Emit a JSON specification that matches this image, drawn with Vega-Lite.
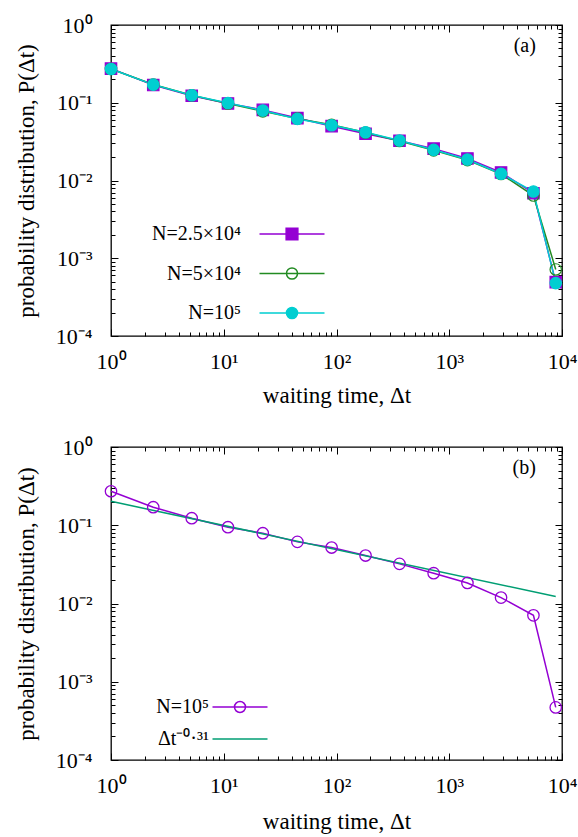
{
  "$schema": "https://vega.github.io/schema/vega-lite/v6.json",
  "background": "white",
  "padding": {"left": 14, "top": 13, "right": 5, "bottom": 5},
  "spacing": 27,
  "config": {
    "font": "Liberation Serif",
    "view": {"stroke": "black", "strokeWidth": 1.3},
    "axis": {
      "domain": false, "grid": false, "tickColor": "black", "tickWidth": 1,
      "labelFont": "Liberation Serif", "labelFontSize": 22, "labelColor": "black",
      "titleFont": "Liberation Serif", "titleFontSize": 23, "titleFontWeight": "normal", "titleColor": "black",
      "labelFlush": false, "labelOverlap": false, "labelBound": false
    },
    "legend": {"padding": 0},
    "title": {"font": "Liberation Serif", "fontSize": 20, "fontWeight": "normal", "color": "black"}
  },
  "datasets": {
    "a": [
      {"dt": 1, "p": 0.275, "series": "N=2.5×10⁴"},
      {"dt": 2.37, "p": 0.169, "series": "N=2.5×10⁴"},
      {"dt": 5.2, "p": 0.123, "series": "N=2.5×10⁴"},
      {"dt": 10.9, "p": 0.098, "series": "N=2.5×10⁴"},
      {"dt": 22.2, "p": 0.081, "series": "N=2.5×10⁴"},
      {"dt": 45, "p": 0.0635, "series": "N=2.5×10⁴"},
      {"dt": 90.5, "p": 0.0500, "series": "N=2.5×10⁴"},
      {"dt": 181, "p": 0.0400, "series": "N=2.5×10⁴"},
      {"dt": 362, "p": 0.0325, "series": "N=2.5×10⁴"},
      {"dt": 727, "p": 0.0257, "series": "N=2.5×10⁴"},
      {"dt": 1450, "p": 0.0192, "series": "N=2.5×10⁴"},
      {"dt": 2880, "p": 0.0127, "series": "N=2.5×10⁴"},
      {"dt": 5580, "p": 0.00687, "series": "N=2.5×10⁴"},
      {"dt": 8800, "p": 0.000493, "series": "N=2.5×10⁴"},
      {"dt": 1, "p": 0.272, "series": "N=5×10⁴"},
      {"dt": 2.37, "p": 0.172, "series": "N=5×10⁴"},
      {"dt": 5.2, "p": 0.125, "series": "N=5×10⁴"},
      {"dt": 10.9, "p": 0.098, "series": "N=5×10⁴"},
      {"dt": 22.2, "p": 0.0775, "series": "N=5×10⁴"},
      {"dt": 45, "p": 0.0625, "series": "N=5×10⁴"},
      {"dt": 90.5, "p": 0.0520, "series": "N=5×10⁴"},
      {"dt": 181, "p": 0.0415, "series": "N=5×10⁴"},
      {"dt": 362, "p": 0.0322, "series": "N=5×10⁴"},
      {"dt": 727, "p": 0.0244, "series": "N=5×10⁴"},
      {"dt": 1450, "p": 0.0183, "series": "N=5×10⁴"},
      {"dt": 2880, "p": 0.0121, "series": "N=5×10⁴"},
      {"dt": 5580, "p": 0.0064, "series": "N=5×10⁴"},
      {"dt": 8800, "p": 0.000718, "series": "N=5×10⁴"},
      {"dt": 1, "p": 0.272, "series": "N=10⁵"},
      {"dt": 2.37, "p": 0.171, "series": "N=10⁵"},
      {"dt": 5.2, "p": 0.125, "series": "N=10⁵"},
      {"dt": 10.9, "p": 0.0993, "series": "N=10⁵"},
      {"dt": 22.2, "p": 0.0794, "series": "N=10⁵"},
      {"dt": 45, "p": 0.0620, "series": "N=10⁵"},
      {"dt": 90.5, "p": 0.0514, "series": "N=10⁵"},
      {"dt": 181, "p": 0.0418, "series": "N=10⁵"},
      {"dt": 362, "p": 0.0327, "series": "N=10⁵"},
      {"dt": 727, "p": 0.0248, "series": "N=10⁵"},
      {"dt": 1450, "p": 0.0186, "series": "N=10⁵"},
      {"dt": 2880, "p": 0.0122, "series": "N=10⁵"},
      {"dt": 5580, "p": 0.00722, "series": "N=10⁵"},
      {"dt": 8800, "p": 0.000479, "series": "N=10⁵"}
    ],
    "b": [
      {"dt": 1, "p": 0.272, "series": "N=10⁵"},
      {"dt": 2.37, "p": 0.170, "series": "N=10⁵"},
      {"dt": 5.2, "p": 0.123, "series": "N=10⁵"},
      {"dt": 10.9, "p": 0.0944, "series": "N=10⁵"},
      {"dt": 22.2, "p": 0.0791, "series": "N=10⁵"},
      {"dt": 45, "p": 0.0613, "series": "N=10⁵"},
      {"dt": 90.5, "p": 0.0519, "series": "N=10⁵"},
      {"dt": 181, "p": 0.0410, "series": "N=10⁵"},
      {"dt": 362, "p": 0.0321, "series": "N=10⁵"},
      {"dt": 727, "p": 0.0244, "series": "N=10⁵"},
      {"dt": 1450, "p": 0.0183, "series": "N=10⁵"},
      {"dt": 2880, "p": 0.0119, "series": "N=10⁵"},
      {"dt": 5580, "p": 0.00706, "series": "N=10⁵"},
      {"dt": 8800, "p": 0.00047, "series": "N=10⁵"},
      {"dt": 1, "p": 0.202, "series": "Δt⁻⁰·³¹"},
      {"dt": 8800, "p": 0.0123, "series": "Δt⁻⁰·³¹"}
    ]
  },
  "vconcat": [
    {
      "width": 451, "height": 311,
      "title": {"text": "(a)", "anchor": "end", "offset": -52, "dx": -41, "baseline": "middle"},
      "data": {"name": "a"},
      "layer": [
        {
          "mark": {"type": "line", "strokeWidth": 1.5},
          "encoding": {
            "x": {"field": "dt", "type": "quantitative",
              "scale": {"type": "log", "domain": [1, 10000], "nice": false},
              "axis": {"orient": "bottom", "title": "waiting time, Δt", "titlePadding": 9,
                "values": [1,2,3,4,5,6,7,8,9,10,20,30,40,50,60,70,80,90,100,200,300,400,500,600,700,800,900,1000,2000,3000,4000,5000,6000,7000,8000,9000,10000],
                "labelExpr": "abs(log(datum.value)/LN10 - round(log(datum.value)/LN10)) > 0.001 ? '' : '10' + ['⁻⁴','⁻³','⁻²','⁻¹','⁰','¹','²','³','⁴'][round(log(datum.value)/LN10)+4]",
                "tickSize": {"condition": {"test": "abs(log(datum.value)/LN10 - round(log(datum.value)/LN10)) < 0.001", "value": -7}, "value": -4},
                "labelPadding": 22}},
            "y": {"field": "p", "type": "quantitative",
              "scale": {"type": "log", "domain": [0.0001, 1], "nice": false},
              "axis": {"orient": "left", "title": "probability distribution, P(Δt)", "titlePadding": 17,
                "values": [0.0001,0.0002,0.0003,0.0004,0.0005,0.0006,0.0007,0.0008,0.0009,0.001,0.002,0.003,0.004,0.005,0.006,0.007,0.008,0.009,0.01,0.02,0.03,0.04,0.05,0.06,0.07,0.08,0.09,0.1,0.2,0.3,0.4,0.5,0.6,0.7,0.8,0.9,1],
                "labelExpr": "abs(log(datum.value)/LN10 - round(log(datum.value)/LN10)) > 0.001 ? '' : '10' + ['⁻⁴','⁻³','⁻²','⁻¹','⁰','¹','²','³','⁴'][round(log(datum.value)/LN10)+4]",
                "tickSize": {"condition": {"test": "abs(log(datum.value)/LN10 - round(log(datum.value)/LN10)) < 0.001", "value": -7}, "value": -4},
                "labelPadding": 26}},
            "color": {"field": "series", "type": "nominal",
              "scale": {"domain": ["N=2.5×10⁴", "N=5×10⁴", "N=10⁵"], "range": ["#9400D3", "#228B22", "#00CED1"]},
              "legend": {"orient": "none", "legendX": 171, "legendY": 199, "title": null,
                "labelFont": "Liberation Serif", "labelFontSize": 20, "labelColor": "black",
                "labelAlign": "right", "labelOffset": -61, "symbolSize": 169, "symbolStrokeWidth": 1.5, "rowPadding": 19.5,
                "encode": {"symbols": {"update": {
                  "shape": {"signal": "datum.value === 'N=2.5×10⁴' ? 'M-5,0H5M-0.9,-0.9H0.9V0.9H-0.9Z' : 'M-5,0H5M0.85,0A0.85,0.85,0,1,1,-0.85,0A0.85,0.85,0,1,1,0.85,0Z'"},
                  "fill": {"signal": "datum.value === 'N=5×10⁴' ? 'transparent' : (datum.value === 'N=10⁵' ? '#00CED1' : '#9400D3')"},
                  "opacity": {"value": 1}
                }}}}}
          }
        },
        {
          "mark": {"type": "point", "size": 130, "strokeWidth": 1.2, "opacity": 1},
          "encoding": {
            "x": {"field": "dt", "type": "quantitative",
              "scale": {"type": "log", "domain": [1, 10000], "nice": false},
              "axis": {"orient": "top", "title": null, "labels": false,
                "values": [1,2,3,4,5,6,7,8,9,10,20,30,40,50,60,70,80,90,100,200,300,400,500,600,700,800,900,1000,2000,3000,4000,5000,6000,7000,8000,9000,10000],
                "tickSize": {"condition": {"test": "abs(log(datum.value)/LN10 - round(log(datum.value)/LN10)) < 0.001", "value": -7}, "value": -4}}},
            "y": {"field": "p", "type": "quantitative",
              "scale": {"type": "log", "domain": [0.0001, 1], "nice": false},
              "axis": {"orient": "right", "title": null, "labels": false,
                "values": [0.0001,0.0002,0.0003,0.0004,0.0005,0.0006,0.0007,0.0008,0.0009,0.001,0.002,0.003,0.004,0.005,0.006,0.007,0.008,0.009,0.01,0.02,0.03,0.04,0.05,0.06,0.07,0.08,0.09,0.1,0.2,0.3,0.4,0.5,0.6,0.7,0.8,0.9,1],
                "tickSize": {"condition": {"test": "abs(log(datum.value)/LN10 - round(log(datum.value)/LN10)) < 0.001", "value": -7}, "value": -4}}},
            "shape": {"field": "series", "type": "nominal",
              "scale": {"domain": ["N=2.5×10⁴", "N=5×10⁴", "N=10⁵"], "range": ["square", "circle", "circle"]}, "legend": null},
            "fill": {"field": "series", "type": "nominal",
              "scale": {"domain": ["N=2.5×10⁴", "N=5×10⁴", "N=10⁵"], "range": ["#9400D3", "transparent", "#00CED1"]}, "legend": null},
            "stroke": {"field": "series", "type": "nominal",
              "scale": {"domain": ["N=2.5×10⁴", "N=5×10⁴", "N=10⁵"], "range": ["#9400D3", "#228B22", "#00CED1"]}, "legend": null}
          }
        }
      ],
      "resolve": {"axis": {"x": "independent", "y": "independent"}}
    },
    {
      "width": 451, "height": 313,
      "title": {"text": "(b)", "anchor": "end", "offset": -52, "dx": -41, "baseline": "middle"},
      "data": {"name": "b"},
      "layer": [
        {
          "mark": {"type": "line", "strokeWidth": 1.5},
          "encoding": {
            "x": {"field": "dt", "type": "quantitative",
              "scale": {"type": "log", "domain": [1, 10000], "nice": false},
              "axis": {"orient": "bottom", "title": "waiting time, Δt", "titlePadding": 11,
                "values": [1,2,3,4,5,6,7,8,9,10,20,30,40,50,60,70,80,90,100,200,300,400,500,600,700,800,900,1000,2000,3000,4000,5000,6000,7000,8000,9000,10000],
                "labelExpr": "abs(log(datum.value)/LN10 - round(log(datum.value)/LN10)) > 0.001 ? '' : '10' + ['⁻⁴','⁻³','⁻²','⁻¹','⁰','¹','²','³','⁴'][round(log(datum.value)/LN10)+4]",
                "tickSize": {"condition": {"test": "abs(log(datum.value)/LN10 - round(log(datum.value)/LN10)) < 0.001", "value": -7}, "value": -4},
                "labelPadding": 22}},
            "y": {"field": "p", "type": "quantitative",
              "scale": {"type": "log", "domain": [0.0001, 1], "nice": false},
              "axis": {"orient": "left", "title": "probability distribution, P(Δt)", "titlePadding": 17,
                "values": [0.0001,0.0002,0.0003,0.0004,0.0005,0.0006,0.0007,0.0008,0.0009,0.001,0.002,0.003,0.004,0.005,0.006,0.007,0.008,0.009,0.01,0.02,0.03,0.04,0.05,0.06,0.07,0.08,0.09,0.1,0.2,0.3,0.4,0.5,0.6,0.7,0.8,0.9,1],
                "labelExpr": "abs(log(datum.value)/LN10 - round(log(datum.value)/LN10)) > 0.001 ? '' : '10' + ['⁻⁴','⁻³','⁻²','⁻¹','⁰','¹','²','³','⁴'][round(log(datum.value)/LN10)+4]",
                "tickSize": {"condition": {"test": "abs(log(datum.value)/LN10 - round(log(datum.value)/LN10)) < 0.001", "value": -7}, "value": -4},
                "labelPadding": 26}},
            "color": {"field": "series", "type": "nominal",
              "scale": {"domain": ["N=10⁵", "Δt⁻⁰·³¹"], "range": ["#9400D3", "#009E73"]},
              "legend": {"orient": "none", "legendX": 119, "legendY": 250, "title": null,
                "labelFont": "Liberation Serif", "labelFontSize": 20, "labelColor": "black",
                "labelAlign": "right", "labelOffset": -41, "symbolSize": 121, "symbolStrokeWidth": 1.5, "rowPadding": 12,
                "encode": {"symbols": {"update": {
                  "shape": {"signal": "datum.value === 'N=10⁵' ? 'M-5,0H5M1,0A1,1,0,1,1,-1,0A1,1,0,1,1,1,0Z' : 'M-5,0H5'"},
                  "fill": {"value": "transparent"},
                  "opacity": {"value": 1}
                }}}}}
          }
        },
        {
          "transform": [{"filter": "datum.series === 'N=10⁵'"}],
          "mark": {"type": "point", "shape": "circle", "filled": false, "color": "#9400D3", "size": 130, "strokeWidth": 1.3, "opacity": 1},
          "encoding": {
            "x": {"field": "dt", "type": "quantitative",
              "scale": {"type": "log", "domain": [1, 10000], "nice": false},
              "axis": {"orient": "top", "title": null, "labels": false,
                "values": [1,2,3,4,5,6,7,8,9,10,20,30,40,50,60,70,80,90,100,200,300,400,500,600,700,800,900,1000,2000,3000,4000,5000,6000,7000,8000,9000,10000],
                "tickSize": {"condition": {"test": "abs(log(datum.value)/LN10 - round(log(datum.value)/LN10)) < 0.001", "value": -7}, "value": -4}}},
            "y": {"field": "p", "type": "quantitative",
              "scale": {"type": "log", "domain": [0.0001, 1], "nice": false},
              "axis": {"orient": "right", "title": null, "labels": false,
                "values": [0.0001,0.0002,0.0003,0.0004,0.0005,0.0006,0.0007,0.0008,0.0009,0.001,0.002,0.003,0.004,0.005,0.006,0.007,0.008,0.009,0.01,0.02,0.03,0.04,0.05,0.06,0.07,0.08,0.09,0.1,0.2,0.3,0.4,0.5,0.6,0.7,0.8,0.9,1],
                "tickSize": {"condition": {"test": "abs(log(datum.value)/LN10 - round(log(datum.value)/LN10)) < 0.001", "value": -7}, "value": -4}}}
          }
        }
      ],
      "resolve": {"axis": {"x": "independent", "y": "independent"}}
    }
  ],
  "resolve": {"scale": {"color": "independent"}, "legend": {"color": "independent"}}
}
